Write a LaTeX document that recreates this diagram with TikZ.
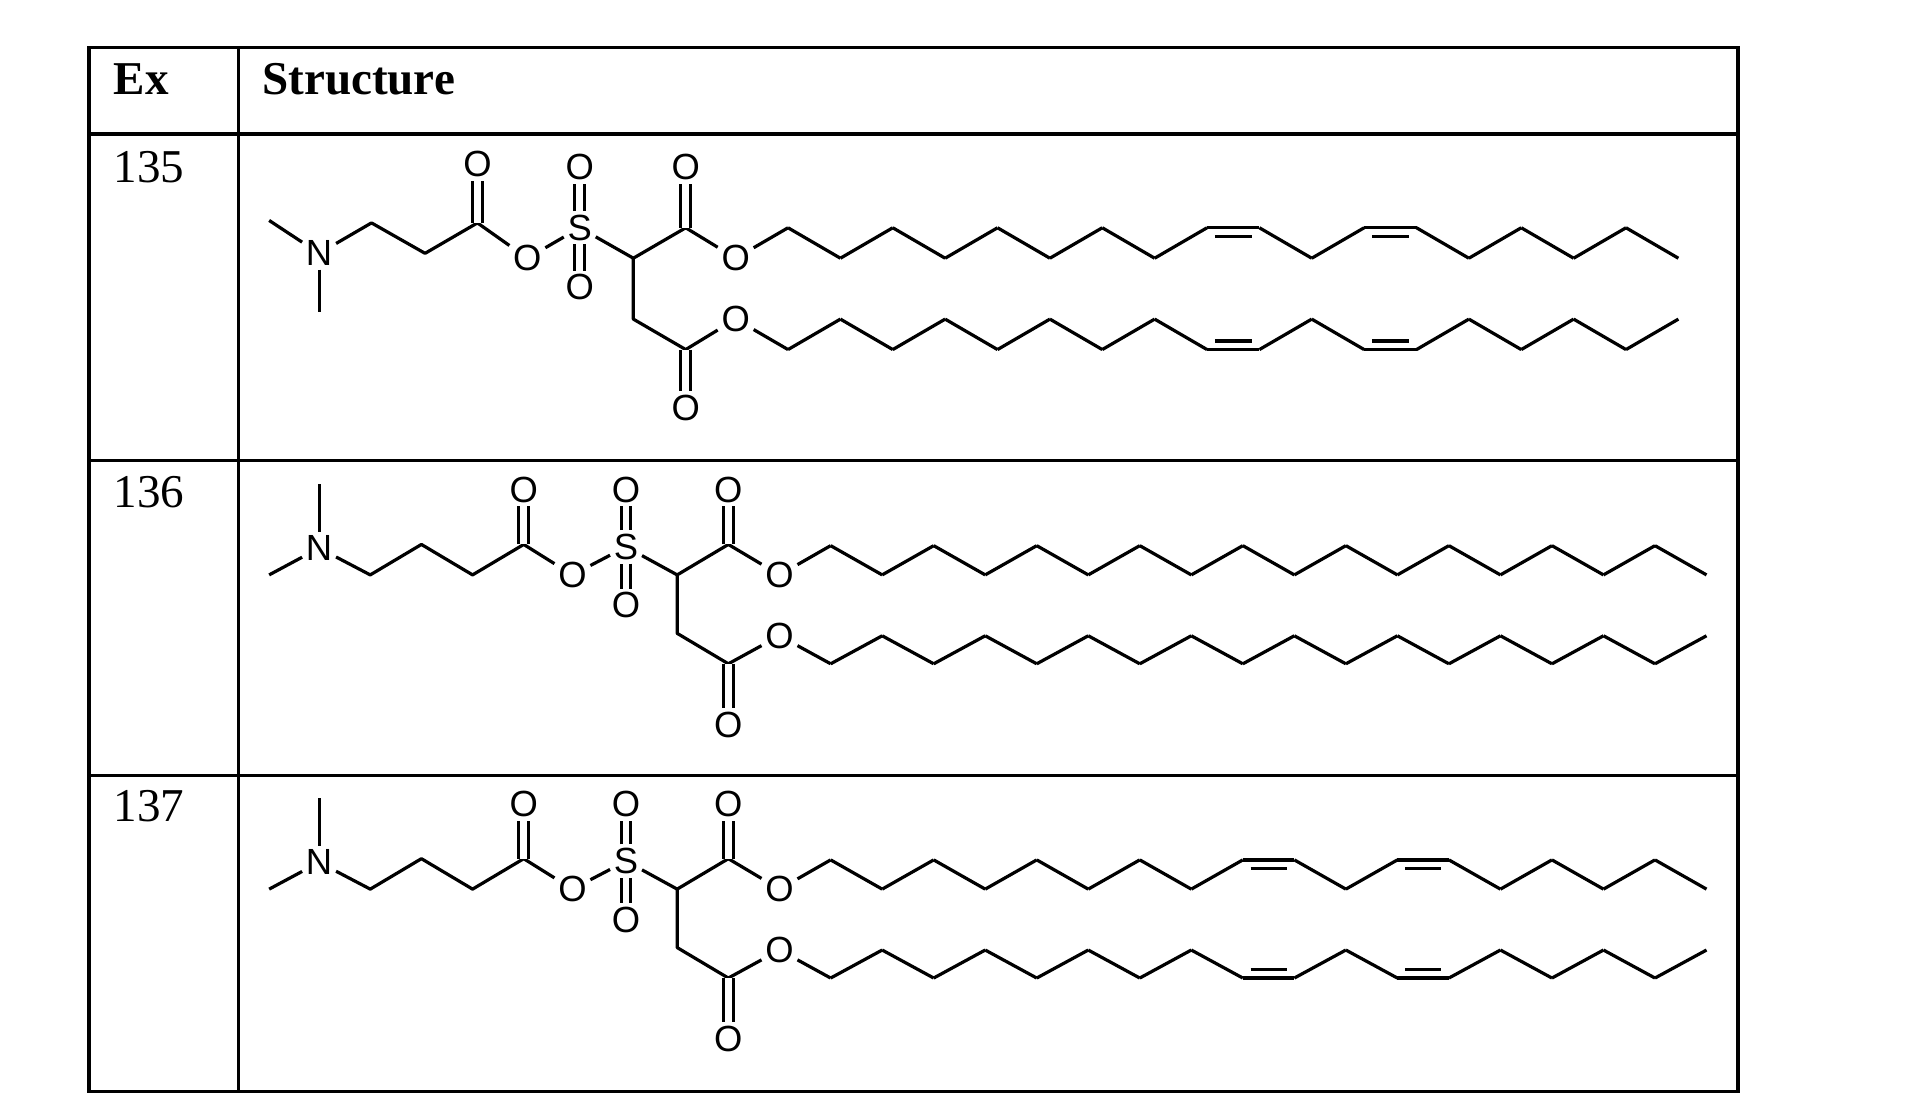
\documentclass[tikz,border=0pt]{standalone}
\usepackage{fontspec}
\setmainfont{Liberation Serif}
\newfontfamily\chemfont{Liberation Sans}
\usetikzlibrary{calc}
\tikzset{
  bond/.style={line width=1.5pt, line join=round},
  dbond/.style={line width=1.4pt, double, double distance=3.2pt},
  atom/.style={font=\chemfont\fontsize{17}{17}\selectfont, inner sep=1.6pt},
  grid/.style={line width=1.5pt},
  cell/.style={font=\fontsize{22}{22}\selectfont, anchor=west, inner sep=0pt}
}
\newcommand\fachain[6]{%
  \foreach \l [count=\i] in #6 {\pgfmathsetmacro\yy{\l==0?#4:#5}\coordinate (#1\i) at ({#2+(\i-1)*#3},\yy);}
  \foreach \i [evaluate=\i as \j using int(\i+1)] in {1,...,17} {\draw[bond] (#1\i) -- (#1\j);}
}
\newcommand\cisdb[3]{\draw[bond] ($(#1)!0.15!(#2)+(0,#3)$) -- ($(#2)!0.15!(#1)+(0,#3)$);}
\def\sat{0,1,0,1,0,1,0,1,0,1,0,1,0,1,0,1,0,1}
\def\lin{0,1,0,1,0,1,0,1,0,0,1,0,0,1,0,1,0,1}
\begin{document}
\begin{tikzpicture}[x=0.02cm,y=-0.02cm]
\useasboundingbox (0,0) rectangle (1569,910);
% table
\draw[grid] (73,39) rectangle (1427,896);
\draw[grid] (196,39) -- (196,896);
\draw[grid] (73,110) -- (1427,110);
\draw[grid] (73,378) -- (1427,378);
\draw[grid] (73,637) -- (1427,637);
\node[cell,font=\bfseries\fontsize{22}{22}\selectfont] (hEx) at (93,65) {Ex};
\node[cell,font=\bfseries\fontsize{22}{22}\selectfont] (hSt) at (215,65) {Structure};
\node[cell] (n135) at (93,137) {135};
\node[cell] (n136) at (93,404) {136};
\node[cell] (n137) at (93,662) {137};

% ---------- 135
\coordinate (aMe1) at (221,181);
\node[atom] (aN) at (262,208) {N};
\coordinate (aMe2) at (262,256);
\coordinate (aC1) at (305,183);
\coordinate (aC2) at (349,208);
\coordinate (aC3) at (392,183);
\node[atom] (aO1) at (392,135) {O};
\node[atom] (aO2) at (433,212) {O};
\node[atom] (aS) at (476,187) {S};
\node[atom] (aO3) at (476,137) {O};
\node[atom] (aO4) at (476,236) {O};
\coordinate (aCH) at (520,212);
\coordinate (aC4) at (563,187);
\node[atom] (aO5) at (563,137) {O};
\node[atom] (aO6) at (604,212) {O};
\coordinate (aC5) at (520,262);
\coordinate (aC6) at (563,287);
\node[atom] (aO7) at (563,335) {O};
\node[atom] (aO8) at (604,262) {O};
\draw[bond] (aMe1) -- (aN); \draw[bond] (aN) -- (aMe2);
\draw[bond] (aN) -- (aC1) -- (aC2) -- (aC3) -- (aO2);
\draw[dbond] (aC3) -- (aO1);
\draw[bond] (aO2) -- (aS); \draw[bond] (aS) -- (aCH);
\draw[dbond] (aS) -- (aO3); \draw[dbond] (aS) -- (aO4);
\draw[bond] (aCH) -- (aC4) -- (aO6);
\draw[dbond] (aC4) -- (aO5);
\draw[bond] (aCH) -- (aC5) -- (aC6) -- (aO8);
\draw[dbond] (aC6) -- (aO7);
\fachain{aT}{647}{43}{187}{212}{\lin}
\fachain{aB}{647}{43}{287}{262}{\lin}
\draw[bond] (aO6) -- (aT1); \draw[bond] (aO8) -- (aB1);
\cisdb{aT9}{aT10}{7} \cisdb{aT12}{aT13}{7}
\cisdb{aB9}{aB10}{-7} \cisdb{aB12}{aB13}{-7}

% ---------- 136 and 137
\foreach \p/\dy in {b/0,c/258}{
\coordinate (\p Me1) at (221,472+\dy);
\node[atom] (\p N) at (262,450+\dy) {N};
\coordinate (\p Me2) at (262,397+\dy);
\coordinate (\p C1) at (304,472+\dy);
\coordinate (\p C2) at (346,447+\dy);
\coordinate (\p C3) at (388,472+\dy);
\coordinate (\p C4) at (430,447+\dy);
\node[atom] (\p O1) at (430,402+\dy) {O};
\node[atom] (\p O2) at (470,472+\dy) {O};
\node[atom] (\p S) at (514,449+\dy) {S};
\node[atom] (\p O3) at (514,402+\dy) {O};
\node[atom] (\p O4) at (514,497+\dy) {O};
\coordinate (\p CH) at (556,472+\dy);
\coordinate (\p C5) at (598,447+\dy);
\node[atom] (\p O5) at (598,402+\dy) {O};
\node[atom] (\p O6) at (640,472+\dy) {O};
\coordinate (\p C6) at (556,520+\dy);
\coordinate (\p C7) at (598,545+\dy);
\node[atom] (\p O7) at (598,595+\dy) {O};
\node[atom] (\p O8) at (640,522+\dy) {O};
\draw[bond] (\p Me1) -- (\p N); \draw[bond] (\p N) -- (\p Me2);
\draw[bond] (\p N) -- (\p C1) -- (\p C2) -- (\p C3) -- (\p C4) -- (\p O2);
\draw[dbond] (\p C4) -- (\p O1);
\draw[bond] (\p O2) -- (\p S); \draw[bond] (\p S) -- (\p CH);
\draw[dbond] (\p S) -- (\p O3); \draw[dbond] (\p S) -- (\p O4);
\draw[bond] (\p CH) -- (\p C5) -- (\p O6);
\draw[dbond] (\p C5) -- (\p O5);
\draw[bond] (\p CH) -- (\p C6) -- (\p C7) -- (\p O8);
\draw[dbond] (\p C7) -- (\p O7);
}
\fachain{bT}{682}{42.3}{448}{472}{\sat}
\fachain{bB}{682}{42.3}{545}{522}{\sat}
\draw[bond] (bO6) -- (bT1); \draw[bond] (bO8) -- (bB1);
\fachain{cT}{682}{42.3}{706}{730}{\lin}
\fachain{cB}{682}{42.3}{803}{780}{\lin}
\draw[bond] (cO6) -- (cT1); \draw[bond] (cO8) -- (cB1);
\cisdb{cT9}{cT10}{7} \cisdb{cT12}{cT13}{7}
\cisdb{cB9}{cB10}{-7} \cisdb{cB12}{cB13}{-7}
\end{tikzpicture}
\end{document}
